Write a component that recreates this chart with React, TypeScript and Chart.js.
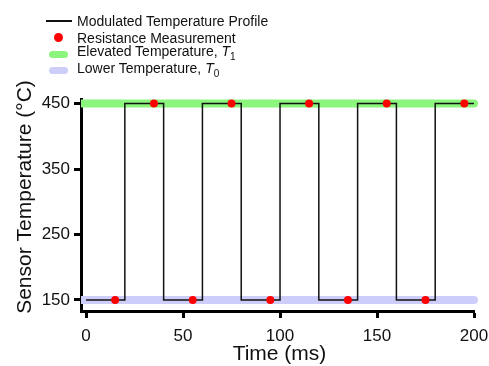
import React, { useEffect, useRef } from "react";
import { Chart, registerables } from "chart.js";

Chart.register(...registerables);

// ---- data ----
const switchTimes = [0, 20, 40, 60, 80, 100, 120, 140, 160, 180, 200];
const profileLevels = [150, 450, 150, 450, 150, 450, 150, 450, 150, 450, 450];
const measurementTimes = [15, 35, 55, 75, 95, 115, 135, 155, 175, 195];
const measurementValues = [150, 450, 150, 450, 150, 450, 150, 450, 150, 450];
const bandTimes = [-2.6, 200];
const elevatedT1 = 450;
const lowerT0 = 150;
const xTicks = [0, 50, 100, 150, 200];
const yTicks = [150, 250, 350, 450];

const FONT = "'Liberation Sans', Arial, Helvetica, sans-serif";
const GREEN = "rgb(140, 245, 125)";
const LAVENDER = "rgb(205, 205, 250)";

const titlePlugin = {
  id: "axisTitles",
  afterDraw(chart: any) {
    const ctx = chart.ctx;
    const area = chart.chartArea;
    ctx.save();
    ctx.fillStyle = "#111";
    ctx.font = `21px ${FONT}`;
    ctx.textAlign = "center";
    ctx.textBaseline = "alphabetic";
    ctx.fillText("Time (ms)", (area.left + area.right) / 2 + 2, 360);
    ctx.translate(31, 197);
    ctx.rotate(-Math.PI / 2);
    ctx.fillText("Sensor Temperature (°C)", 0, 0);
    ctx.restore();
  },
};

export default function App() {
  const ref = useRef<HTMLCanvasElement | null>(null);

  useEffect(() => {
    if (!ref.current) return;
    const band = (v: number) => bandTimes.map((t) => ({ x: t, y: v }));
    const chart = new Chart(ref.current, {
      type: "line",
      data: {
        datasets: [
          {
            label: "Resistance Measurement",
            data: measurementTimes.map((t, i) => ({ x: t, y: measurementValues[i] })),
            showLine: false,
            pointRadius: 4,
            pointBackgroundColor: "#ff0000",
            pointBorderWidth: 0,
            clip: false as any,
          },
          {
            label: "Modulated Temperature Profile",
            data: switchTimes.map((t, i) => ({ x: t, y: profileLevels[i] })),
            stepped: "before",
            borderColor: "#111",
            borderWidth: 1.5,
            pointRadius: 0,
          },
          {
            label: "Elevated Temperature, T1",
            data: band(elevatedT1),
            borderColor: GREEN,
            borderWidth: 8,
            borderCapStyle: "round",
            pointRadius: 0,
            clip: { left: 0, top: 6, right: 6, bottom: 6 } as any,
          },
          {
            label: "Lower Temperature, T0",
            data: band(lowerT0),
            borderColor: LAVENDER,
            borderWidth: 8,
            borderCapStyle: "round",
            pointRadius: 0,
            clip: { left: 0, top: 6, right: 6, bottom: 6 } as any,
          },
        ],
      },
      options: {
        animation: false,
        responsive: false,
        maintainAspectRatio: false,
        layout: { padding: { top: 99, right: 15, left: 0, bottom: 0 } },
        plugins: { legend: { display: false }, tooltip: { enabled: false } },
        scales: {
          x: {
            type: "linear",
            min: -2.6,
            max: 200,
            afterBuildTicks: (s: any) => {
              s.ticks = xTicks.map((v) => ({ value: v }));
            },
            afterFit: (s: any) => {
              s.height = 55;
              s.paddingLeft = 0;
              s.paddingRight = 0;
            },
            border: { display: true, color: "#000", width: 3 },
            grid: {
              drawOnChartArea: false,
              drawTicks: true,
              tickLength: 7,
              tickWidth: 3,
              tickColor: "#000",
            },
            ticks: {
              font: { family: FONT, size: 17 },
              color: "#111",
              padding: 8,
              maxRotation: 0,
            },
          },
          y: {
            type: "linear",
            min: 133,
            max: 457,
            afterBuildTicks: (s: any) => {
              s.ticks = yTicks.map((v) => ({ value: v }));
            },
            afterFit: (s: any) => {
              s.width = 81;
              s.paddingTop = 0;
              s.paddingBottom = 0;
            },
            border: { display: true, color: "#000", width: 3 },
            grid: {
              drawOnChartArea: false,
              drawTicks: true,
              tickLength: 7,
              tickWidth: 3,
              tickColor: "#000",
            },
            ticks: {
              font: { family: FONT, size: 17 },
              color: "#111",
              padding: 4,
            },
          },
        },
      },
      plugins: [titlePlugin],
    } as any);
    return () => chart.destroy();
  }, []);

  const rowStyle = (top: number): React.CSSProperties => ({
    position: "absolute",
    left: 0,
    top,
    height: 18,
    width: 300,
    display: "flex",
    alignItems: "center",
    fontFamily: FONT,
    fontSize: 14,
    color: "#111",
    whiteSpace: "nowrap",
  });
  const symBox: React.CSSProperties = {
    position: "absolute",
    left: 0,
    top: 0,
    width: 77,
    height: 18,
  };
  const textStyle: React.CSSProperties = { position: "absolute", left: 77, lineHeight: "18px" };

  return (
    <div
      style={{
        position: "fixed",
        left: 0,
        top: 0,
        width: 489,
        height: 366,
        background: "#fff",
        overflow: "hidden",
      }}
    >
      <canvas ref={ref} width={489} height={366} style={{ position: "absolute", left: 0, top: 0 }} />
      <div style={rowStyle(12)}>
        <div style={symBox}>
          <div style={{ position: "absolute", left: 46, top: 8, width: 26, height: 1.5, background: "#111" }} />
        </div>
        <span style={textStyle}>Modulated Temperature Profile</span>
      </div>
      <div style={rowStyle(28.5)}>
        <div style={symBox}>
          <div
            style={{
              position: "absolute",
              left: 54,
              top: 4.5,
              width: 9,
              height: 9,
              borderRadius: "50%",
              background: "#ff0000",
            }}
          />
        </div>
        <span style={textStyle}>Resistance Measurement</span>
      </div>
      <div style={rowStyle(45)}>
        <div style={symBox}>
          <div
            style={{
              position: "absolute",
              left: 49,
              top: 5.5,
              width: 19,
              height: 7,
              borderRadius: 4,
              background: GREEN,
            }}
          />
        </div>
        <span style={textStyle}>
          Elevated Temperature, <i>T</i>
          <sub style={{ fontSize: 10 }}>1</sub>
        </span>
      </div>
      <div style={rowStyle(61.5)}>
        <div style={symBox}>
          <div
            style={{
              position: "absolute",
              left: 49,
              top: 5.5,
              width: 19,
              height: 7,
              borderRadius: 4,
              background: LAVENDER,
            }}
          />
        </div>
        <span style={textStyle}>
          Lower Temperature, <i>T</i>
          <sub style={{ fontSize: 10 }}>0</sub>
        </span>
      </div>
    </div>
  );
}
